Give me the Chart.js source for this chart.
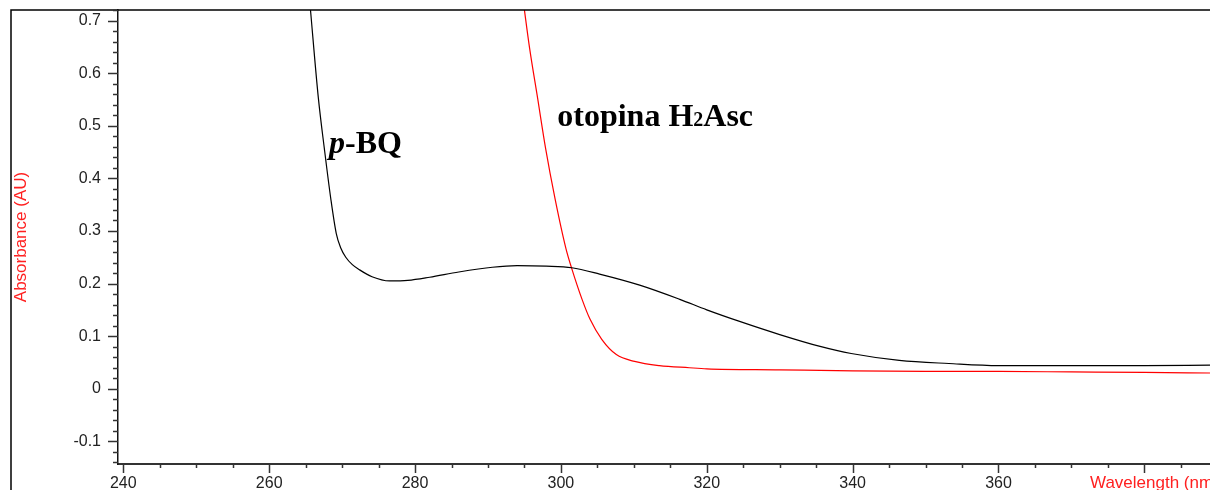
<!DOCTYPE html>
<html>
<head>
<meta charset="utf-8">
<script src="https://cdn.jsdelivr.net/npm/chart.js@4.4.1/dist/chart.umd.min.js"></script>
<style>
    html, body { margin: 0; padding: 0; background: #fff; }
    #caixa { width: 1210px; height: 490px; }
</style>
</head>
<body>
<div id="caixa"><canvas id="graficoEspectro"></canvas></div>
<script>
const comprimentoBQ = [265.6, 266.74, 267.56, 268.45, 269.2, 269.8, 270.5, 271.4, 272.4, 274.1, 276.5, 279, 282, 286, 290.6, 294, 298, 301.5, 305.3, 310.8, 316.3, 320, 324.5, 330, 335.4, 339.8, 346.4, 353.2, 360, 370, 380, 389];
const absorbanciaBQ = [0.73, 0.553, 0.457, 0.361, 0.295, 0.268, 0.250, 0.236, 0.226, 0.213, 0.205, 0.206, 0.212, 0.222, 0.231, 0.234, 0.233, 0.230, 0.218, 0.197, 0.170, 0.150, 0.128, 0.103, 0.081, 0.067, 0.054, 0.048, 0.044, 0.044, 0.044, 0.045];

const comprimentoAsc = [294.9, 295.7, 296.8, 297.9, 299.2, 300.7, 301.5, 302.9, 304.0, 305.6, 307.6, 310.1, 313.5, 317.6, 320, 330, 340, 350, 360, 370, 380, 389];
const absorbanciaAsc = [0.73, 0.648, 0.553, 0.457, 0.361, 0.266, 0.228, 0.170, 0.132, 0.094, 0.065, 0.052, 0.044, 0.040, 0.038, 0.036, 0.034, 0.033, 0.033, 0.032, 0.031, 0.030];

// rótulos dos eixos
const rotulosX = [240, 260, 280, 300, 320, 340, 360];
const rotulosY = [-0.1, 0, 0.1, 0.2, 0.3, 0.4, 0.5, 0.6, 0.7];

function paraPontos(xs, ys) {
    return xs.map((x, i) => ({ x: x, y: ys[i] }));
}

// escreve texto com partes de fontes diferentes (itálico, subscrito)
function textoMisto(c, partes, x, y) {
    partes.forEach(p => {
        c.font = p.fonte;
        c.fillText(p.texto, x, y);
        x += c.measureText(p.texto).width;
    });
}

// ---- moldura, marcas dos eixos, título X cortado e nomes das curvas
const pluginExtras = {
    id: 'extras',
    afterDraw(chart) {
        const c = chart.ctx;
        const area = chart.chartArea;
        const escalaX = chart.scales.x;
        const escalaY = chart.scales.y;
        c.save();

        // moldura externa
        c.strokeStyle = '#000';
        c.lineWidth = 1.5;
        c.beginPath();
        c.moveTo(11, chart.height);
        c.lineTo(11, area.top);
        c.lineTo(chart.width, area.top);
        c.stroke();

        // marcas do eixo Y (grandes a cada 0.1)
        c.strokeStyle = '#333';
        c.lineWidth = 1.5;
        escalaY.ticks.forEach(t => {
            const py = Math.round(escalaY.getPixelForValue(t.value)) + 0.5;
            const grande = Math.round(t.value * 100) % 10 === 0;
            c.beginPath();
            c.moveTo(area.left - (grande ? 10 : 5), py);
            c.lineTo(area.left, py);
            c.stroke();
        });

        // marcas do eixo X (grandes a cada 20 nm)
        escalaX.ticks.forEach(t => {
            const px = Math.round(escalaX.getPixelForValue(t.value)) + 0.5;
            const grande = Math.round(t.value) % 20 === 0;
            c.beginPath();
            c.moveTo(px, area.bottom);
            c.lineTo(px, area.bottom + (grande ? 9 : 4));
            c.stroke();
        });

        // título do eixo X, cortado na borda como no original
        c.fillStyle = '#ff2020';
        c.font = '17px "Liberation Sans"';
        c.textAlign = 'left';
        c.textBaseline = 'top';
        c.fillText('Wavelength (nm)', area.right - 120, area.bottom + 11);

        // nomes das curvas
        c.fillStyle = '#000';
        c.textBaseline = 'alphabetic';
        textoMisto(c, [
            { texto: 'p', fonte: 'italic bold 32px "Liberation Serif"' },
            { texto: '-BQ', fonte: 'bold 32px "Liberation Serif"' }
        ], escalaX.getPixelForValue(268.2), escalaY.getPixelForValue(0.449));
        textoMisto(c, [
            { texto: 'otopina H', fonte: 'bold 32px "Liberation Serif"' },
            { texto: '2', fonte: 'bold 20px "Liberation Serif"' },
            { texto: 'Asc', fonte: 'bold 32px "Liberation Serif"' }
        ], escalaX.getPixelForValue(299.5), escalaY.getPixelForValue(0.500));

        c.restore();
    }
};

const ctx = document.getElementById('graficoEspectro').getContext('2d');
let graficoEspectro = new Chart(ctx, {
    type: 'line',
    data: {
        datasets: [{
            label: 'p-BQ',
            data: paraPontos(comprimentoBQ, absorbanciaBQ),
            borderColor: '#000',
            borderWidth: 1.2,
            pointRadius: 0,
            cubicInterpolationMode: 'monotone',
            fill: false
        }, {
            label: 'otopina H2Asc',
            data: paraPontos(comprimentoAsc, absorbanciaAsc),
            borderColor: '#ff0000',
            borderWidth: 1.2,
            pointRadius: 0,
            cubicInterpolationMode: 'monotone',
            fill: false
        }]
    },
    options: {
        responsive: true,
        maintainAspectRatio: false,
        animation: false,
        layout: { padding: { top: 10, left: 0, right: 0, bottom: 0 } },
        plugins: {
            legend: { display: false },
            tooltip: { enabled: false }
        },
        scales: {
            x: {
                type: 'linear',
                min: 239.27,
                max: 389,
                afterFit: s => {
                    s.height = 26;
                    s.paddingLeft = 0;
                    s.paddingRight = 0;
                },
                grid: { display: false, drawTicks: false },
                border: { display: true, color: '#333', width: 2 },
                ticks: {
                    stepSize: 5,
                    includeBounds: false,
                    autoSkip: false,
                    maxRotation: 0,
                    padding: 10,
                    color: '#222',
                    font: { family: 'Liberation Sans', size: 16 },
                    callback: v => rotulosX.includes(Math.round(v)) ? String(Math.round(v)) : ''
                }
            },
            y: {
                min: -0.143,
                max: 0.72,
                afterFit: s => {
                    s.width = 118;
                    s.paddingTop = 0;
                    s.paddingBottom = 0;
                },
                grid: { display: false, drawTicks: false },
                border: { display: true, color: '#111', width: 1.5 },
                title: {
                    display: true,
                    text: 'Absorbance (AU)', // título do eixo Y
                    color: '#ff2020',
                    font: { family: 'Liberation Sans', size: 17 },
                    padding: { top: 11, bottom: 0 }
                },
                ticks: {
                    stepSize: 0.02,
                    includeBounds: false,
                    autoSkip: false,
                    padding: 17,
                    color: '#222',
                    font: { family: 'Liberation Sans', size: 16 },
                    callback: v => {
                        const r = Math.round(v * 100) / 100;
                        return rotulosY.includes(r) ? String(r) : '';
                    }
                }
            }
        }
    },
    plugins: [pluginExtras]
});
</script>
</body>
</html>
